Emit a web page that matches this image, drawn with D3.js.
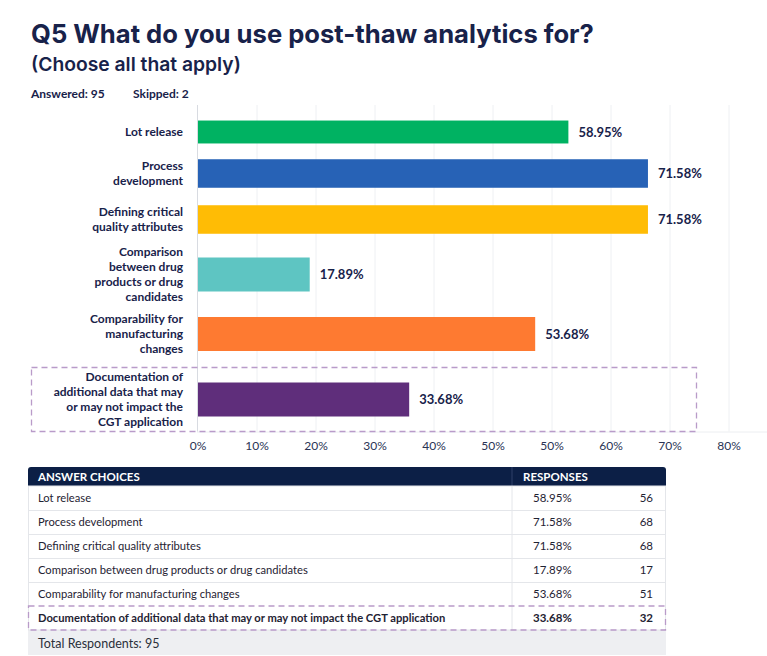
<!DOCTYPE html>
<html>
<head>
<meta charset="utf-8">
<script src="https://cdn.jsdelivr.net/npm/d3@7"></script>
<style>
  body { margin: 0; background: #fff; }
  svg { display: block; font-family: Lato, "Noto Sans", sans-serif; }
</style>
</head>
<body>
<script>
// survey question data
const categories = [
  'Lot release',
  'Process development',
  'Defining critical quality attributes',
  'Comparison between drug products or drug candidates',
  'Comparability for manufacturing changes',
  'Documentation of additional data that may or may not impact the CGT application'
];
const chartLabels = [
  ['Lot release'],
  ['Process', 'development'],
  ['Defining critical', 'quality attributes'],
  ['Comparison', 'between drug', 'products or drug', 'candidates'],
  ['Comparability for', 'manufacturing', 'changes'],
  ['Documentation of', 'additional data that may', 'or may not impact the', 'CGT application']
];
const percents = [58.95, 71.58, 71.58, 17.89, 53.68, 33.68];
const counts = [56, 68, 68, 17, 51, 32];
const barColors = ['#00b262', '#2762b6', '#ffbc05', '#5ec5c2', '#fe7a31', '#5f2e7b'];
const tickLabels = ['0%', '10%', '20%', '30%', '40%', '50%', '50%', '60%', '70%', '80%'];
const highlighted = 5;
const answered = 95;
const skipped = 2;
const totalRespondents = 95;

const W = 767, H = 656;
const navy = '#18224a';

const svg = d3.select('body').append('svg')
  .attr('width', W)
  .attr('height', H);

// header
svg.append('text')
  .attr('x', 31).attr('y', 43)
  .attr('font-family', 'Inter, Lato, sans-serif')
  .attr('font-size', 25.6).attr('font-weight', 700)
  .attr('fill', navy)
  .text('Q5 What do you use post-thaw analytics for?');
svg.append('text')
  .attr('x', 31).attr('y', 71)
  .attr('font-family', 'Inter, Lato, sans-serif')
  .attr('font-size', 19.3).attr('font-weight', 600)
  .attr('fill', navy)
  .text('(Choose all that apply)');
svg.append('text')
  .attr('x', 31).attr('y', 98)
  .attr('font-size', 12).attr('font-weight', 700)
  .attr('fill', navy)
  .text(`Answered: ${answered}`);
svg.append('text')
  .attr('x', 133).attr('y', 98)
  .attr('font-size', 12).attr('font-weight', 700)
  .attr('fill', navy)
  .text(`Skipped: ${skipped}`);

// rows: height depends on how many lines the label wraps to
const rows = [];
let rowTop = 113.5;
chartLabels.forEach((lines, i) => {
  const pad = i === highlighted ? 6 : 0;
  const body = 28 + 9 * lines.length;
  rows.push({
    label: lines,
    value: percents[i],
    color: barColors[i],
    bodyTop: rowTop + pad,
    body,
    mid: rowTop + pad + body / 2
  });
  rowTop += body + pad;
});

const plotTop = 105, plotBottom = 431.5;
const x = d3.scaleLinear().domain([0, 80]).range([197, 701]);
const xTick = d3.scalePoint().domain(d3.range(tickLabels.length)).range([198, 729]);

// grid
svg.append('g')
  .selectAll('line')
  .data(tickLabels.slice(1))
  .join('line')
  .attr('x1', (d, i) => xTick(i + 1))
  .attr('x2', (d, i) => xTick(i + 1))
  .attr('y1', plotTop).attr('y2', plotBottom)
  .attr('stroke', '#eef0f3');
svg.append('line')
  .attr('x1', 197).attr('x2', W)
  .attr('y1', plotBottom + 0.5).attr('y2', plotBottom + 0.5)
  .attr('stroke', '#eceef1');
svg.append('line')
  .attr('x1', 197.5).attr('x2', 197.5)
  .attr('y1', plotTop).attr('y2', plotBottom)
  .attr('stroke', '#d8dbe1');

// highlight box around last row
const hr = rows[highlighted];
svg.append('rect')
  .attr('x', 31.5).attr('y', hr.bodyTop)
  .attr('width', 665).attr('height', hr.body)
  .attr('fill', 'none')
  .attr('stroke', '#b99bc9')
  .attr('stroke-width', 1.3)
  .attr('stroke-dasharray', '6 4');

// bars
const barH = d => Math.min(34, d.body * 0.62);
const barG = svg.append('g')
  .selectAll('g')
  .data(rows)
  .join('g');
barG.append('rect')
  .attr('x', x(0) + 1)
  .attr('y', d => d.mid - barH(d) / 2)
  .attr('width', d => x(d.value) - x(0) - 1)
  .attr('height', barH)
  .attr('fill', d => d.color);
barG.append('text')
  .attr('x', d => x(d.value) + 10)
  .attr('y', d => d.mid)
  .attr('dy', '0.35em')
  .attr('font-size', 13).attr('font-weight', 700)
  .attr('fill', navy)
  .text(d => d3.format('.2f')(d.value) + '%');
barG.append('text')
  .attr('text-anchor', 'end')
  .attr('font-size', 12).attr('font-weight', 700)
  .attr('fill', navy)
  .selectAll('tspan')
  .data(d => d.label.map((t, j) => ({ t, j, n: d.label.length, mid: d.mid })))
  .join('tspan')
  .attr('x', 183)
  .attr('y', d => d.mid + (d.j - (d.n - 1) / 2) * 15)
  .attr('dy', '0.35em')
  .text(d => d.t);

// x axis labels
svg.append('g')
  .selectAll('text')
  .data(tickLabels)
  .join('text')
  .attr('x', (d, i) => xTick(i))
  .attr('y', 446)
  .attr('dy', '0.35em')
  .attr('text-anchor', 'middle')
  .attr('font-size', 12)
  .attr('fill', '#2a3354')
  .text(d => d);

// answer table
const tL = 28, tR = 666, tDiv = 512;
const headTop = 467, headH = 19, rowH = 24;
const tbl = svg.append('g');

tbl.append('path')
  .attr('d', `M${tL},${headTop + headH} V${headTop + 3} Q${tL},${headTop} ${tL + 3},${headTop}
    H${tR - 3} Q${tR},${headTop} ${tR},${headTop + 3} V${headTop + headH} Z`)
  .attr('fill', '#0c1f46');
tbl.append('line')
  .attr('x1', tDiv).attr('x2', tDiv)
  .attr('y1', headTop).attr('y2', headTop + headH)
  .attr('stroke', '#2e4168');
tbl.append('text')
  .attr('x', 38).attr('y', headTop + headH / 2).attr('dy', '0.35em')
  .attr('font-size', 11.5).attr('font-weight', 700).attr('fill', '#fff')
  .text('ANSWER CHOICES');
tbl.append('text')
  .attr('x', 523).attr('y', headTop + headH / 2).attr('dy', '0.35em')
  .attr('font-size', 11.5).attr('font-weight', 700).attr('fill', '#fff')
  .text('RESPONSES');

const bodyTop = headTop + headH;
const totalTop = bodyTop + rowH * categories.length;

// total row
tbl.append('rect')
  .attr('x', tL).attr('y', totalTop)
  .attr('width', tR - tL).attr('height', H - totalTop - 1)
  .attr('fill', '#eeeff2');
tbl.append('text')
  .attr('x', 38).attr('y', totalTop + 14).attr('dy', '0.35em')
  .attr('font-size', 12.5).attr('fill', '#2b2f3a')
  .text(`Total Respondents: ${totalRespondents}`);

// table body borders
tbl.append('rect')
  .attr('x', tL + 0.5).attr('y', bodyTop)
  .attr('width', tR - tL - 1).attr('height', totalTop - bodyTop)
  .attr('fill', 'none').attr('stroke', '#e4e6ea');
tbl.append('line')
  .attr('x1', tDiv).attr('x2', tDiv)
  .attr('y1', bodyTop).attr('y2', totalTop)
  .attr('stroke', '#e4e6ea');

const trow = tbl.selectAll('g.row')
  .data(categories)
  .join('g')
  .attr('class', 'row')
  .attr('transform', (d, i) => `translate(0,${bodyTop + i * rowH})`);
trow.filter((d, i) => i > 0 && i !== highlighted)
  .append('line')
  .attr('x1', tL).attr('x2', tR)
  .attr('y1', 0.5).attr('y2', 0.5)
  .attr('stroke', '#e4e6ea');
trow.append('text')
  .attr('x', 38).attr('y', rowH / 2).attr('dy', '0.35em')
  .attr('font-size', 11.2)
  .attr('font-weight', (d, i) => i === highlighted ? 700 : 400)
  .attr('fill', '#1f2333')
  .text(d => d);
trow.append('text')
  .attr('x', 533).attr('y', rowH / 2).attr('dy', '0.35em')
  .attr('font-size', 11.5)
  .attr('font-weight', (d, i) => i === highlighted ? 700 : 400)
  .attr('fill', '#1f2333')
  .text((d, i) => d3.format('.2f')(percents[i]) + '%');
trow.append('text')
  .attr('x', 653).attr('y', rowH / 2).attr('dy', '0.35em')
  .attr('text-anchor', 'end')
  .attr('font-size', 11.5)
  .attr('font-weight', (d, i) => i === highlighted ? 700 : 400)
  .attr('fill', '#1f2333')
  .text((d, i) => counts[i]);

// dashed highlight on the table row
tbl.append('rect')
  .attr('x', tL + 0.5).attr('y', bodyTop + highlighted * rowH)
  .attr('width', tR - tL - 1).attr('height', rowH)
  .attr('fill', 'none')
  .attr('stroke', '#b99bc9')
  .attr('stroke-width', 1.3)
  .attr('stroke-dasharray', '6 4');
</script>
</body>
</html>
